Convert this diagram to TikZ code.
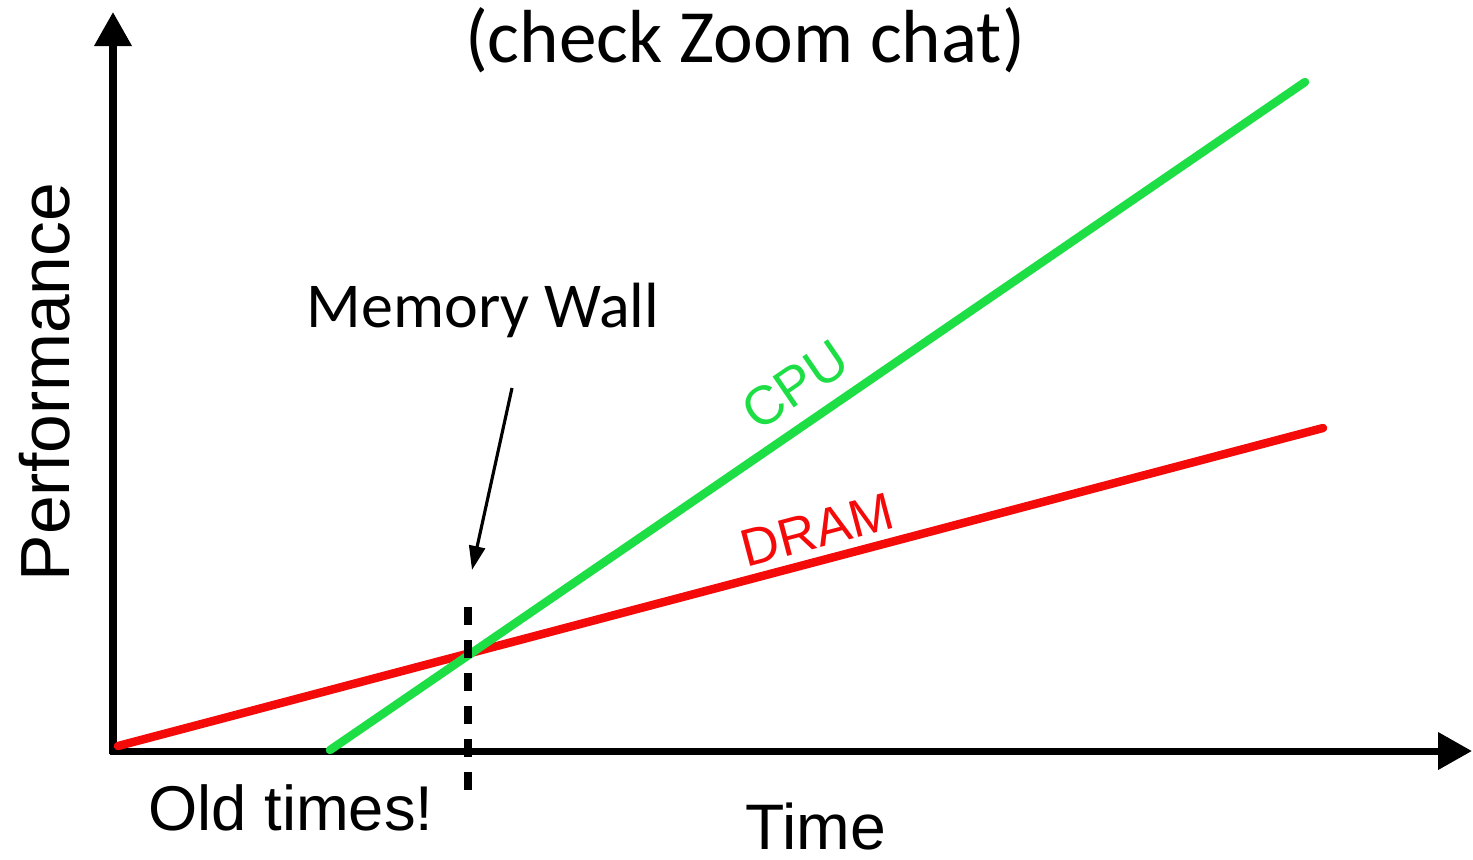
\documentclass[tikz,border=0pt]{standalone}
\usepackage{fontspec}
\setmainfont{Carlito}
\newfontfamily\helv{Liberation Sans}
\usetikzlibrary{arrows.meta}
\definecolor{cpugreen}{RGB}{30,222,70}
\definecolor{dramred}{RGB}{245,10,10}
\begin{document}
\begin{tikzpicture}[line join=round,
    axis/.style={line width=2pt, -{Triangle[width=0.36cm,length=0.34cm]}},
    trend/.style={line width=2.4pt, line cap=round},
    lbl/.style={font=\helv, inner sep=0pt}]
	\useasboundingbox (0,0) rectangle (14.73,8.59);
	
	% Trục
	\coordinate (O) at (1.13,1.08);
	\coordinate (Ytop) at (1.13,8.47);
	\coordinate (Xend) at (14.72,1.08);
	\draw[axis] (1.13,1.05) -- (Ytop);
	\draw[axis] (1.10,1.08) -- (Xend);
	
	% Đường CPU và DRAM
	\coordinate (C0) at (3.30,1.09);
	\coordinate (C1) at (13.05,7.77);
	\coordinate (D0) at (1.18,1.13);
	\coordinate (D1) at (13.23,4.31);
	\draw[trend, dramred] (D0) -- (D1);
	\draw[trend, cpugreen] (C0) -- (C1);
	\node[lbl, dramred, rotate=14.8, font=\helv\fontsize{15}{15}\selectfont] (dram) at (8.17,3.29) {DRAM};
	\node[lbl, cpugreen, rotate=34.4, font=\helv\fontsize{15.5}{15}\selectfont] (cpu) at (7.95,4.74) {CPU};
	
	% Bức tường
	\coordinate (W0) at (4.68,2.52);
	\coordinate (W1) at (4.68,0.59);
	\draw[line width=2pt, dash pattern=on 0.18cm off 0.15cm] (W0) -- (W1);
	
	% Nhãn
	\node[inner sep=0pt, font=\fontsize{21.4}{21}\selectfont] (title) at (7.45,8.19) {(check Zoom chat)};
	\node[inner sep=0pt, font=\fontsize{18.2}{18}\selectfont] (wall) at (4.83,5.49) {Memory Wall};
	\coordinate (A0) at (5.12,4.71);
	\coordinate (A1) at (4.72,2.89);
	\draw[line width=0.9pt, -{Triangle[width=0.16cm,length=0.24cm]}] (A0) -- (A1);
	\node[lbl, rotate=90, font=\helv\fontsize{19.8}{20}\selectfont] (perf) at (0.45,4.77) {Performance};
	\node[lbl, font=\helv\fontsize{18}{18}\selectfont] (old) at (2.91,0.51) {Old times!};
	\node[lbl, font=\helv\fontsize{18.3}{18}\selectfont] (time) at (8.16,0.33) {Time};
\end{tikzpicture}
\end{document}
